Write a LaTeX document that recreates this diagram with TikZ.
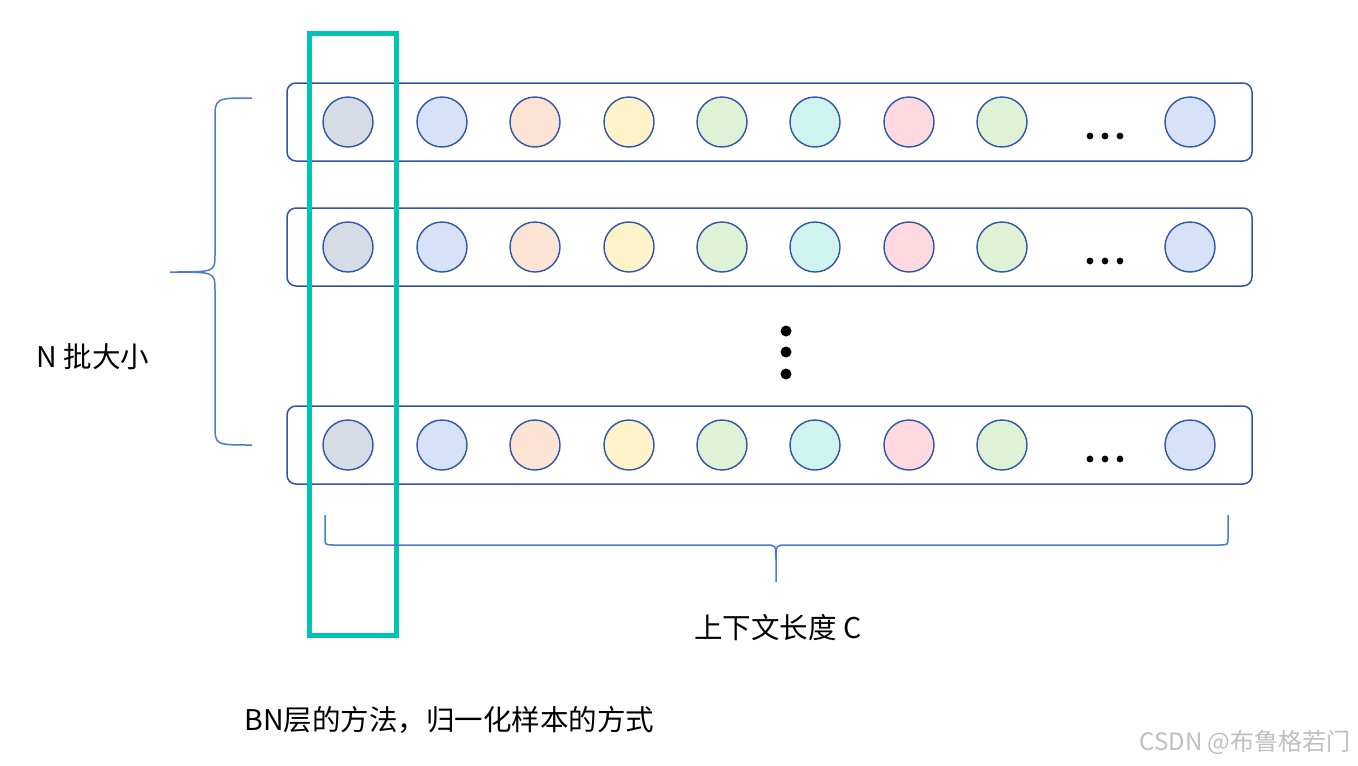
\documentclass[tikz,border=0pt]{standalone}
\usepackage{fontspec}
\setmainfont{Liberation Sans}
\newfontfamily\cjk{Noto Sans CJK SC}
\definecolor{edge}{HTML}{2F55A4}
\definecolor{brc}{HTML}{4A7BD0}
\definecolor{teal}{HTML}{00C4B4}
\definecolor{c1}{HTML}{D5DCE6}
\definecolor{c2}{HTML}{D6E2F7}
\definecolor{c3}{HTML}{FDE3D3}
\definecolor{c4}{HTML}{FEF2C9}
\definecolor{c5}{HTML}{DEF2D6}
\definecolor{c6}{HTML}{CFF4EF}
\definecolor{c7}{HTML}{FFD9DF}
\begin{document}
\begin{tikzpicture}[x=1pt,y=-1pt,
  rowbox/.style={draw=edge,line width=1.5pt,rounded corners=9pt},
  cell/.style={circle,draw=edge,line width=1.4pt,minimum size=50pt,inner sep=0pt},
  lbl/.style={font=\cjk\fontsize{28.5}{32}\selectfont}]
\useasboundingbox (0,0) rectangle (1358,766);
\foreach \r/\y in {1/122,2/247,3/445}{
  \draw[rowbox] (287,\y-39) rectangle (1252,\y+39);
  \foreach \i/\x/\c in {1/348/c1,2/442/c2,3/535/c3,4/629/c4,5/722/c5,6/815/c6,7/909/c7,8/1002/c5,9/1190/c2}
    \node[cell,fill=\c] (n\r\i) at (\x,\y) {};
  \foreach \dx in {-15,0,15} \fill (1105+\dx,\y+14) circle (3.4pt);
}
\foreach \yy in {331,352,374} \fill (786,\yy) circle (5.5pt);
\draw[teal,line width=5pt] (309,33) rectangle (396,635);
\draw[brc,line width=1.5pt] (252,98) .. controls (215,98) and (215,98) .. (215,120) -- (215,255) .. controls (215,272) .. (170,272) .. controls (215,272) .. (215,290) -- (215,425) .. controls (215,445) and (215,445) .. (252,445);
\draw[brc,line width=1.5pt] (325,515) -- (325,538) .. controls (325,545) .. (335,545) -- (765,545) .. controls (776,545) .. (776,560) -- (776,582);
\draw[brc,line width=1.5pt] (1228,515) -- (1228,538) .. controls (1228,545) .. (1218,545) -- (787,545) .. controls (776,545) .. (776,560);
\node[lbl] (nlab) at (93,357) {N 批大小};
\node[lbl] (clab) at (778,628) {上下文长度 C};
\node[lbl,anchor=west] (blab) at (241,720) {BN层的方法，归一化样本的方式};
\node[font=\cjk\fontsize{24}{28}\selectfont,text=black!25,anchor=east] (wm) at (1354,742) {CSDN @布鲁格若门};
\end{tikzpicture}
\end{document}
